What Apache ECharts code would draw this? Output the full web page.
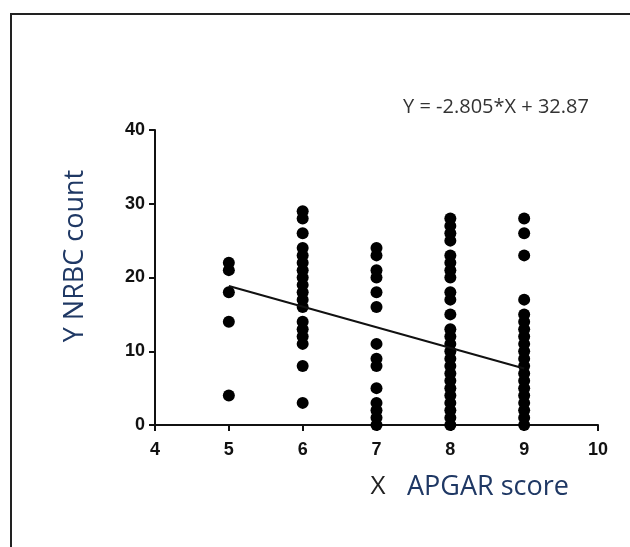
<!DOCTYPE html>
<html>
<head>
<meta charset="utf-8">
<script src="https://cdn.jsdelivr.net/npm/echarts@6/dist/echarts.min.js"></script>
<style>
  html, body { margin: 0; padding: 0; background: #fff; }
  #chart { width: 630px; height: 547px; }
</style>
</head>
<body>
<div id="chart"></div>
<script>
// APGAR score columns and NRBC counts
const apgar5 = [22, 21, 18, 14, 4]
const apgar6 = [29, 28, 26, 24, 23, 22, 21, 20, 19, 18, 17, 16, 14, 13, 12, 11, 8, 3]
const apgar7 = [24, 23, 21, 20, 18, 16, 11, 9, 8, 5, 3, 2, 1, 0]
const apgar8 = [28, 27, 26, 25, 23, 22, 21, 20, 18, 17, 15, 13, 12, 11, 10, 9, 8, 7, 6, 5, 4, 3, 2, 1, 0]
const apgar9 = [28, 26, 23, 17, 15, 14, 13, 12, 11, 10, 9, 8, 7, 6, 5, 4, 3, 2, 1, 0]

// fitted line end points (Y = -2.805*X + 32.87 over the data range)
const fitX = [5, 9]
const fitY = [18.85, 7.65]

const xTicks = [4, 5, 6, 7, 8, 9, 10]
const yTicks = [0, 10, 20, 30, 40]

const columns = [[5, apgar5], [6, apgar6], [7, apgar7], [8, apgar8], [9, apgar9]]
const points = []
columns.forEach(([x, ys]) => ys.forEach(y => points.push([x, y])))

const chart = echarts.init(document.getElementById('chart'))
const blue = '#1f3864'

chart.setOption({
  animation: false,
  grid: { left: 155, right: 32, top: 130, bottom: 122 },
  xAxis: {
    type: 'value',
    min: xTicks[0],
    max: xTicks[xTicks.length - 1],
    interval: 1,
    splitLine: { show: false },
    axisLine: { onZero: false, lineStyle: { color: '#111', width: 2 } },
    axisTick: { show: true, length: 6, lineStyle: { color: '#111', width: 2 } },
    axisLabel: { color: '#111', fontFamily: 'Liberation Sans', fontWeight: 'bold', fontSize: 18, margin: 16 }
  },
  yAxis: {
    type: 'value',
    min: yTicks[0],
    max: yTicks[yTicks.length - 1],
    interval: 10,
    splitLine: { show: false },
    axisLine: { show: true, lineStyle: { color: '#111', width: 2 } },
    axisTick: { show: true, length: 6, lineStyle: { color: '#111', width: 2 } },
    axisLabel: { color: '#111', fontFamily: 'Liberation Sans', fontWeight: 'bold', fontSize: 18, margin: 10 }
  },
  series: [
    {
      type: 'scatter',
      data: points,
      symbol: 'circle',
      symbolSize: 12,
      itemStyle: { color: '#000', opacity: 1 }
    },
    {
      type: 'line',
      data: fitX.map((x, i) => [x, fitY[i]]),
      symbol: 'none',
      lineStyle: { color: '#111', width: 2 }
    }
  ],
  graphic: [
    {
      type: 'rect',
      shape: { x: 11, y: 14, width: 700, height: 600 },
      style: { fill: 'none', stroke: '#222', lineWidth: 2 }
    },
    {
      type: 'text',
      x: 496, y: 107,
      style: { text: 'Y = -2.805*X + 32.87', fill: '#333', font: '20px "Open Sans"', align: 'center', verticalAlign: 'middle' }
    },
    {
      type: 'text',
      x: 75, y: 256, rotation: Math.PI / 2,
      style: { text: 'Y NRBC count', fill: blue, font: '27px "Open Sans"', align: 'center', verticalAlign: 'middle' }
    },
    {
      type: 'text',
      x: 378, y: 487,
      style: { text: 'X', fill: '#222', font: '26px "Open Sans"', align: 'center', verticalAlign: 'middle' }
    },
    {
      type: 'text',
      x: 407, y: 487,
      style: { text: 'APGAR score', fill: blue, font: '27px "Open Sans"', align: 'left', verticalAlign: 'middle' }
    }
  ]
})
</script>
</body>
</html>
